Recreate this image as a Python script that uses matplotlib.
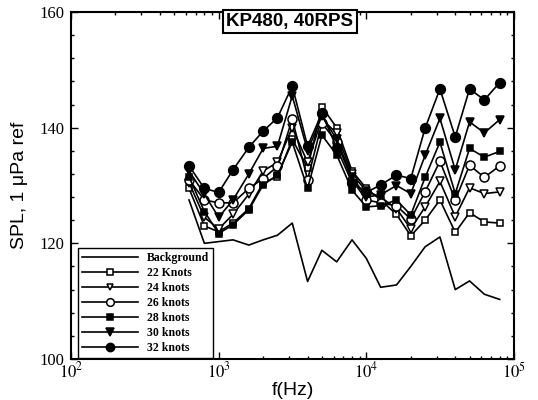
import numpy as np
import matplotlib
matplotlib.use("Agg")
import matplotlib.pyplot as plt
from matplotlib.ticker import LogLocator, MultipleLocator, FixedLocator, FixedFormatter

# 1/3-octave band centre frequencies (Hz)
freq = [630, 800, 1000, 1250, 1600, 2000, 2500, 3150, 4000, 5000, 6300,
        8000, 10000, 12500, 16000, 20000, 25000, 31500, 40000, 50000, 63000, 80000]

background = [127.5, 120.0, 120.3, 120.6, 119.7, 120.6, 121.4, 123.5, 113.4, 118.8, 116.8,
              120.6, 117.4, 112.4, 112.8, 116.0, 119.4, 121.1, 112.0, 113.5, 111.2, 110.3]
spl_22 = [129.5, 123.0, 122.0, 123.5, 126.0, 130.5, 131.5, 138.0, 133.0, 143.6, 140.0,
          132.5, 129.5, 127.5, 125.0, 121.3, 124.0, 127.5, 121.9, 125.3, 123.7, 123.5]
spl_24 = [130.5, 124.5, 122.5, 125.0, 128.5, 132.5, 134.0, 140.0, 134.0, 141.5, 139.0,
          132.0, 129.0, 128.0, 126.0, 122.5, 126.3, 130.7, 124.6, 129.6, 128.6, 128.9]
spl_26 = [131.0, 127.5, 127.0, 127.0, 129.5, 131.2, 133.3, 141.5, 131.0, 140.8, 137.5,
          131.0, 127.5, 127.0, 126.5, 124.2, 128.9, 134.2, 127.5, 133.5, 131.4, 133.4]
spl_28 = [131.5, 125.5, 121.7, 123.2, 125.8, 130.1, 131.8, 137.5, 129.5, 138.7, 135.3,
          129.2, 126.3, 126.5, 127.5, 124.9, 131.4, 137.5, 128.6, 136.4, 134.9, 135.9]
spl_30 = [132.5, 128.5, 124.5, 127.5, 132.0, 136.4, 136.8, 145.5, 136.0, 142.0, 138.0,
          131.5, 128.0, 128.4, 130.0, 128.6, 135.2, 141.6, 132.7, 141.0, 139.1, 141.4]
spl_32 = [133.4, 129.5, 128.8, 132.7, 136.6, 139.4, 141.7, 147.2, 136.8, 142.5, 136.5,
          130.5, 128.8, 130.1, 131.8, 131.2, 139.9, 146.7, 138.4, 146.7, 144.8, 147.8]

series = [
    ("22 Knots", spl_22, "s", "white", 4.5),
    ("24 knots", spl_24, "v", "white", 5.5),
    ("26 knots", spl_26, "o", "white", 6.5),
    ("28 knots", spl_28, "s", "black", 5),
    ("30 knots", spl_30, "v", "black", 6),
    ("32 knots", spl_32, "o", "black", 7),
]

plt.rcParams["mathtext.fontset"] = "stix"

fig = plt.figure(figsize=(5.38, 4.0), dpi=100)
ax = fig.add_axes([0.132, 0.1025, 0.8234, 0.8675])

ax.plot(freq, background, color="black", lw=1.2, label="Background")
for name, vals, mk, face, ms in series:
    ax.plot(freq, vals, color="black", lw=1.2, marker=mk, ms=ms,
            mfc=face, mec="black", mew=1.1, label=name)

ax.set_xscale("log")
ax.set_xlim(1e2, 1e5)
ax.set_ylim(100, 160)

serif = ["Liberation Serif", "DejaVu Serif"]
sans = ["Liberation Sans", "DejaVu Sans"]

ax.xaxis.set_major_locator(FixedLocator([1e2, 1e3, 1e4, 1e5]))
ax.xaxis.set_major_formatter(FixedFormatter([r"$10^{2}$", r"$10^{3}$", r"$10^{4}$", r"$10^{5}$"]))
ax.xaxis.set_minor_locator(LogLocator(base=10, subs=np.arange(2, 10), numticks=20))
ax.yaxis.set_major_locator(MultipleLocator(20))
ax.yaxis.set_minor_locator(MultipleLocator(4))

ax.tick_params(which="both", direction="in", top=True, right=True, width=1.0)
ax.tick_params(which="major", length=5)
ax.tick_params(which="minor", length=2.5)
ax.tick_params(axis="x", pad=2, labelsize=12)
ax.tick_params(axis="y", pad=5, labelsize=12)
for lbl in ax.get_yticklabels():
    lbl.set_family(serif)

for sp in ax.spines.values():
    sp.set_linewidth(1.5)

ax.set_xlabel("f(Hz)", family=sans, fontsize=14, labelpad=0)
ax.set_ylabel("SPL, 1 μPa ref", family=sans, fontsize=14, labelpad=8)

ax.text(0.494, 0.997, "KP480, 40RPS", transform=ax.transAxes, ha="center", va="top",
        family=sans, fontsize=13.5, fontweight="bold",
        bbox=dict(boxstyle="square,pad=0.18", fc="white", ec="black", lw=1.5))

leg = ax.legend(loc="lower left", bbox_to_anchor=(0.012, 0.0), fancybox=False,
                edgecolor="black", framealpha=1, borderaxespad=0.1,
                handlelength=4.8, handletextpad=0.7, labelspacing=0.25,
                borderpad=0.35, markerscale=0.85,
                prop={"family": serif, "weight": "bold", "size": 8.5})
leg.get_frame().set_linewidth(1.0)

fig.savefig("out.png", dpi=100)
